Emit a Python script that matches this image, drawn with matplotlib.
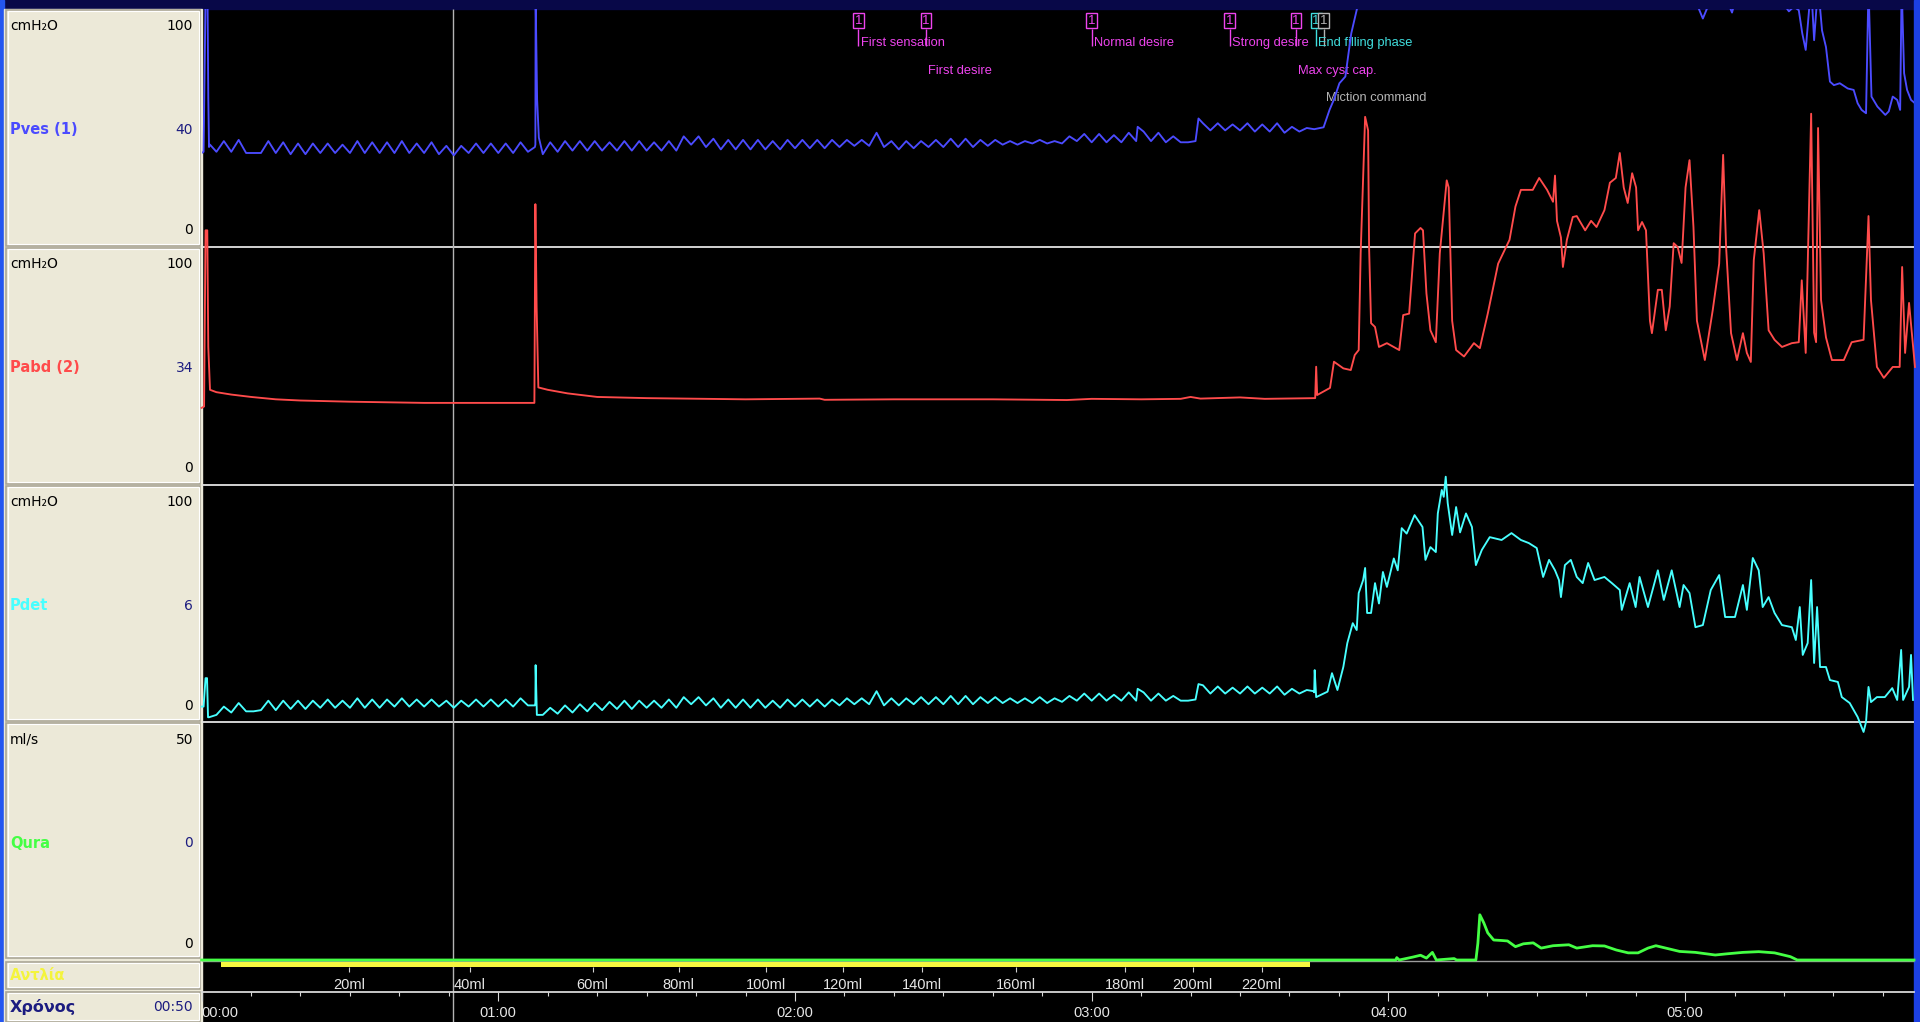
import numpy as np
import matplotlib
matplotlib.use('Agg')
import matplotlib.pyplot as plt
from matplotlib import font_manager
from matplotlib.patches import Rectangle

# ---------------- data (time in s) ----------------
t_end = 346.3
cursor_t = 50.8
breath_dt = 1.5          # step of the filling-phase lists below

# Pves, filling phase, one value every 1.5 s (trough / peak of breathing)
pves_breath = [
    39.5, 42, 40, 44.5, 40, 45, 39.5, 39.5, 39.5, 44.5,
    39.5, 44, 39, 43.5, 39, 43.5, 39.5, 43.5, 39.5, 43,
    39.5, 44.5, 39.5, 44, 39.5, 44, 39.5, 44.5, 39.5, 43.5,
    39.5, 44, 39, 42.5, 38.5, 42.5, 39.5, 43.5, 39.5, 43.5,
    39.5, 43.5, 39.5, 44, 40, 43, 39, 44, 40, 44.5,
    40.5, 44.5, 40.5, 44.5, 40.5, 44, 40.5, 44.5, 40.5, 44.5,
    40.5, 44, 40.5, 44.5, 40.5, 46.5, 43, 46.5, 42, 45.5,
    41, 45, 41, 45, 41, 45, 41, 44.5, 41, 45,
    41.5, 45, 41.5, 45, 41.5, 45, 42, 45, 42.5, 45,
    42.5, 48, 42, 44.5, 41, 44.5, 41.5, 44.5, 42, 45,
    42, 45.5, 42, 45.5, 42, 45, 42.5, 45, 43, 44.5,
    43, 44.5, 43.5, 45, 43.5, 44.5, 43.5, 46.5, 44.5, 47.5,
    44, 47.5, 44, 47, 44, 48, 44.5, 48.5, 44.5, 48,
    44, 46.5, 44, 44, 44.5, 52, 49, 52, 49, 51.5,
    49, 52, 48.5, 51.5, 48.5, 52, 48, 50.5, 48.5, 50,
    49.5,
]
pves_spikes = [(0.4, 40), (0.8, 105), (1.2, 105), (1.35, 63), (1.7, 43),
               (67.4, 42), (67.55, 105), (67.85, 62), (68.2, 46),
               (189.3, 50.5), (201.6, 54)]
pves_void = [
    (226.9, 50.3), (228.1, 57.6), (229.0, 62), (230.1, 68.8), (231.3, 71.6),
    (232.5, 89.8), (233.7, 100.5), (235, 130), (240, 118), (245, 150), (250, 180),
    (260, 150), (270, 190), (280, 135), (290, 150), (300, 130), (302.6, 101),
    (303.6, 96), (304.6, 101), (306, 115), (309.0, 101), (309.5, 98.5),
    (310.2, 104), (315, 110), (319.3, 100.5), (320.0, 102), (321.0, 99),
    (322.0, 101), (323.0, 99.5), (323.7, 89.8), (324.4, 82.8), (325.5, 110),
    (326.1, 86.9), (326.9, 110), (327.7, 91), (328.5, 84), (329.3, 69.5),
    (330.1, 68), (331.3, 68.8), (332.9, 66.6), (334.1, 66), (334.9, 60.4),
    (335.7, 57.6), (336.6, 56.2), (337.1, 110), (337.7, 63.2), (338.9, 59),
    (340.5, 55.5), (341.2, 57), (342.0, 63.2), (342.9, 61.8), (343.5, 57.6),
    (343.8, 110), (344.3, 73), (344.9, 66), (345.7, 61.8), (346.5, 60.4),
]

pabd_pts = [
    (0, 32.4), (0.5, 33), (0.8, 107), (1.15, 107), (1.35, 58), (1.7, 40), (3, 39),
    (6, 38), (10, 37), (15, 36), (20, 35.5), (30, 35), (45, 34.5), (60, 34.5),
    (67.3, 34.5), (67.5, 118), (67.75, 75), (68.1, 41), (70, 40), (74, 38.5),
    (80, 37), (90, 36.5), (110, 36), (125, 36.3), (126, 35.8), (140, 36),
    (160, 36), (175, 35.7), (180, 36.2), (190, 36), (198, 36.2), (200, 37),
    (202, 36.3), (210, 36.8), (215, 36.2), (222, 36.4), (225.2, 36.5),
    (225.4, 49.7), (225.6, 37.8), (228.2, 40.8), (229.0, 51.8), (230.9, 49),
    (232.4, 48.3), (233.2, 54.6), (234.0, 56.7), (234.4, 97.5), (235.3, 154.7),
    (235.9, 149), (236.1, 100), (236.5, 68), (237.3, 66.4), (238.1, 58),
    (239.7, 59.6), (242.2, 56.7), (243.0, 71.4), (244.2, 72), (245.4, 105.7),
    (246.5, 108), (247.0, 107), (247.7, 80.5), (248.5, 65), (249.6, 60),
    (250.4, 97.3), (251.8, 128), (252.2, 125), (252.9, 69), (253.7, 56.7),
    (255.3, 54), (257.3, 59.6), (258.5, 57.5), (260.1, 72), (262.2, 93),
    (264.5, 103), (265.7, 117), (266.8, 124), (269.2, 124), (270.5, 129),
    (272.1, 124), (273.3, 119), (273.7, 130), (274.1, 111), (274.9, 104),
    (275.3, 91.6), (276.1, 103), (277.3, 112.6), (278.1, 113), (279.8, 107),
    (281.0, 111), (282.1, 108.4), (283.7, 115.5), (284.8, 127), (286.0, 129),
    (286.8, 139.5), (287.6, 125), (288.4, 118.5), (289.3, 131), (290.1, 125),
    (290.5, 107), (291.3, 110.5), (292.1, 107), (292.9, 69), (293.3, 63.8),
    (294.5, 82), (295.3, 82), (296.1, 65), (296.9, 75), (297.7, 101.6),
    (298.5, 100), (299.3, 93.3), (300.1, 125), (300.9, 136.5), (301.7, 108.4),
    (302.4, 69), (304.0, 52.5), (305.6, 73.5), (306.9, 93), (307.7, 138.7),
    (308.3, 100), (309.3, 63.8), (310.5, 52.5), (311.7, 63.8), (312.5, 55.5),
    (313.3, 51.7), (313.9, 94.5), (315.0, 115.5), (315.9, 97.3), (316.9, 65),
    (318.1, 61), (319.6, 58), (321.6, 59.6), (323.0, 60), (323.6, 86),
    (324.4, 55.5), (325.5, 156), (326.1, 64), (326.5, 60), (326.9, 150),
    (327.5, 77.7), (328.5, 62), (329.7, 52.5), (332.1, 52.5), (333.7, 60),
    (336.1, 61), (337.1, 113), (337.6, 77.7), (338.8, 49.6), (340.2, 45),
    (342.0, 49.6), (343.4, 49.6), (343.9, 91.6), (344.5, 55.5), (345.3, 76.5),
    (346.5, 49.6),
]

pdet_breath = [
    6.5, 2, 3, 6.5, 4, 8, 4.5, 4.5, 5, 9,
    5, 9, 5.5, 9, 5.5, 9, 6, 9.5, 6, 9,
    6, 10, 6, 9.5, 6, 9.5, 6.5, 10, 6.5, 9.5,
    6.5, 9.5, 6.5, 9, 6, 9, 6.5, 9.5, 6.5, 9.5,
    6.5, 9.5, 6.5, 10, 7, 8, 3, 6, 3.5, 7,
    4, 7.5, 4.5, 8, 5, 8.5, 5.5, 9, 5.5, 9,
    6, 9, 6, 9.5, 6, 10.5, 7.5, 10.5, 7, 10,
    6, 9.5, 6, 9.5, 6, 9.5, 6, 9, 6, 9.5,
    6.5, 9.5, 6.5, 9.5, 6.5, 9.5, 7, 10, 7.5, 10,
    7.5, 13, 7, 10, 7, 10, 7.5, 10.5, 7.5, 10.5,
    7.5, 11, 7.5, 11, 7.5, 10.5, 8, 10.5, 8, 10,
    8, 10, 8, 10.5, 8, 10, 8.5, 11, 9, 12,
    9, 12, 9, 11.5, 9, 12.5, 9, 12.5, 9, 12,
    9, 11, 9, 9, 9.5, 15.5, 12, 15, 12, 14.5,
    12, 15, 12, 14.5, 12, 15, 11.5, 14, 12, 13.5,
    12.5,
]
pdet_spikes = [(0.4, 6.5), (0.8, 18.5), (1.1, 18.5), (1.3, 2),
               (67.4, 7), (67.55, 24), (67.8, 3), (189.3, 14), (201.6, 16)]
pdet_void = [
    (224.9, 13), (225.1, 21.9), (225.4, 10.5), (227.7, 12.8), (228.6, 20.6),
    (229.7, 13.5), (230.9, 23.3), (231.7, 33.3), (232.8, 41.7), (233.6, 38.8),
    (234.0, 54.4), (234.9, 59.9), (235.3, 65), (235.7, 46), (236.5, 46),
    (237.3, 58.6), (238.1, 50), (238.9, 63.3), (239.7, 57), (241.1, 69),
    (241.9, 64), (242.7, 81.8), (243.7, 79.5), (245.3, 87.3), (246.9, 82.3),
    (247.5, 68.4), (248.5, 73.8), (249.6, 71.7), (250.0, 88), (250.8, 97.9),
    (251.2, 95), (251.6, 103.5), (252.0, 92.4), (252.9, 78.9), (253.7, 90.7),
    (254.5, 80), (255.7, 88), (256.9, 82.3), (257.7, 66.2), (258.9, 72.6),
    (260.5, 78), (262.9, 76.8), (264.9, 79.7), (266.8, 76.8), (268.4, 75.5),
    (270.0, 73.4), (271.3, 61.2), (272.5, 68.4), (273.7, 64), (274.5, 59.9),
    (274.9, 52.7), (275.7, 66.2), (276.9, 68.4), (278.1, 61.2), (279.3, 58.6),
    (280.4, 67.1), (281.7, 59.9), (283.7, 61.2), (285.2, 58.6), (286.8, 55.7),
    (287.2, 47.3), (288.8, 58.6), (290.0, 48.5), (290.8, 61.2), (292.5, 48.5),
    (294.5, 64), (295.7, 51.5), (297.3, 64), (298.9, 48.5), (299.7, 57.8),
    (300.9, 54.4), (302.1, 40), (303.6, 40.9), (305.2, 55.7), (306.9, 62),
    (308.1, 44.3), (310.1, 44.3), (311.7, 57.8), (312.5, 47.3), (313.7, 69.2),
    (314.9, 64), (315.7, 48.5), (316.9, 52.7), (318.1, 46), (319.6, 40.9),
    (321.6, 40), (322.4, 34.6), (323.2, 48.5), (323.8, 28.3), (324.8, 33.3),
    (325.5, 59.9), (326.1, 24.9), (326.7, 48.5), (327.3, 23.2), (328.5, 23.2),
    (329.3, 17.7), (330.9, 16.9), (331.7, 10.5), (333.3, 8), (334.9, 2.1),
    (336.1, -4.2), (336.6, 0), (337.1, 14.8), (337.6, 8.4), (338.8, 10.5),
    (340.4, 10.5), (341.9, 14.3), (342.9, 9.3), (343.7, 30.4), (344.1, 9.3),
    (345.3, 14.8), (345.7, 28.3), (346.1, 9.3),
]

qura_pts = [
    (0, 0), (241.5, 0), (241.7, 0.5), (242.2, 0), (244.9, 0.6), (246.5, 1.0),
    (247.7, 0.4), (248.9, 1.6), (249.7, 0), (253.3, 0.3), (253.8, 0), (257.7, 0),
    (258.1, 3.5), (258.5, 9.5), (259.3, 7.8), (260.1, 5.7), (261.3, 4.2),
    (262.9, 4.1), (264.1, 4.0), (265.7, 2.8), (267.3, 3.4), (269.3, 3.6),
    (270.9, 2.5), (273.3, 3.0), (276.5, 3.2), (278.1, 2.5), (281.3, 3.0),
    (283.7, 2.95), (286.1, 2.1), (288.5, 1.5), (290.5, 1.5), (292.5, 2.5),
    (294.1, 3.0), (296.5, 2.4), (298.9, 1.8), (302.1, 1.6), (306.1, 1.05),
    (308.5, 1.3), (311.7, 1.6), (314.9, 1.75), (318.1, 1.5), (321.3, 0.7),
    (322.7, 0), (346.3, 0),
]

pump_start, pump_stop = 4.0, 224.1
vol_ml = [20, 40, 60, 80, 100, 120, 140, 160, 180, 200, 220]
vol_t = [29.8, 54.3, 79.1, 96.5, 114.1, 129.7, 145.7, 164.6, 186.8, 200.4, 214.4]

event_t = [132.8, 146.5, 180.0, 207.9, 221.3, 225.4, 226.9]
event_names = ['First sensation', 'First desire', 'Normal desire', 'Strong desire',
               'Max cyst cap.', 'End filling phase', 'Miction command']
event_row = [0, 1, 0, 0, 1, 0, 2]
event_kind = ['m', 'm', 'm', 'm', 'm', 'c', 'g']

chan_units = ['cmH\u2082O', 'cmH\u2082O', 'cmH\u2082O', 'ml/s']
chan_top = ['100', '100', '100', '50']
chan_names = ['Pves (1)', 'Pabd (2)', 'Pdet', 'Qura']
chan_cursor = ['40', '34', '6', '0']


def merged(breath, extra, void):
    t = np.concatenate([np.arange(len(breath)) * breath_dt,
                        [p[0] for p in extra], [p[0] for p in void]])
    v = np.concatenate([breath, [p[1] for p in extra], [p[1] for p in void]])
    o = np.argsort(t, kind='stable')
    return t[o], v[o]


pves_t, pves_v = merged(pves_breath, pves_spikes, pves_void)
pdet_t, pdet_v = merged(pdet_breath, pdet_spikes, pdet_void)
pabd_t, pabd_v = np.array(pabd_pts).T
qura_t, qura_v = np.array(qura_pts).T

# ---------------- layout (pixels of the 1920x1022 screen) ----------------
W, H, DPI = 1920, 1022, 100
X0, X1 = 201.6, 1914
panels = [(9, 247), (247, 485), (485, 722), (722, 960)]
ymax = [100, 100, 100, 50]

names = {f.name for f in font_manager.fontManager.ttflist}
narrow = 'Liberation Sans Narrow' if 'Liberation Sans Narrow' in names else 'Liberation Sans'
NARROW = [narrow, 'DejaVu Sans']
UI = ['DejaVu Sans']

col_pves = '#4b4bff'
col_pabd = '#ff4b4b'
col_pdet = '#48ffff'
col_qura = '#44ff44'
col_navy = '#1c1c80'
col_mag = '#ee44ee'
ev_colors = {'m': col_mag, 'c': '#40dede', 'g': '#b4b4b4'}

fig = plt.figure(figsize=(W / DPI, H / DPI), dpi=DPI, facecolor='black')


def px_rect(x0, y0, x1, y1):
    return [x0 / W, 1 - y1 / H, (x1 - x0) / W, (y1 - y0) / H]


bg = fig.add_axes([0, 0, 1, 1], zorder=0)
bg.set_xlim(0, W)
bg.set_ylim(H, 0)
bg.axis('off')

bg.add_patch(Rectangle((0, 0), W, 9, color='#080848'))
bg.add_patch(Rectangle((0, 0), 4, H, color='#2456f0'))
bg.add_patch(Rectangle((X1, 0), W - X1, H, color='#1c40e4'))
bg.add_patch(Rectangle((4, 9), X0 - 4, H - 9, color='#ECE9D8'))
boxes = [(10, 246), (248, 484), (486, 721), (723, 958), (962, 989), (992, 1022)]
for y0, y1 in boxes:
    bg.add_patch(Rectangle((6, y0), 194, y1 - y0, fc='#ECE9D8', ec='#aaa696', lw=1.2))
    bg.add_patch(Rectangle((7.5, y0 + 1.5), 191, y1 - y0 - 3, fc='none', ec='white', lw=0.8))

# panel separators in the trace area
bg.hlines([247, 485, 722], X0, X1, color='#e4e4e4', lw=1.3)
bg.hlines(961, X0, X1, color='#9c9c9c', lw=1)

# channel captions on the left
name_cols = [col_pves, col_pabd, col_pdet, col_qura]
for i, (y0, y1) in enumerate(panels):
    bg.text(10, y0 + 17.5, chan_units[i], color='black', fontsize=10, family=UI,
            ha='left', va='center')
    bg.text(193, y0 + 17.5, chan_top[i], color='black', fontsize=10, family=UI,
            ha='right', va='center')
    mid = (y0 + y1) / 2 + 2
    bg.text(10, mid, chan_names[i], color=name_cols[i], fontsize=10.5, family=UI,
            fontweight='bold', ha='left', va='center')
    bg.text(193, mid, chan_cursor[i], color=col_navy, fontsize=10, family=UI,
            ha='right', va='center')
    bg.text(193, y1 - 16.5, '0', color='black', fontsize=10, family=UI,
            ha='right', va='center')
bg.text(10, 976, '\u0391\u03bd\u03c4\u03bb\u03af\u03b1', color='#f4f43c', fontsize=10.5,
        family=UI, fontweight='bold', ha='left', va='center')
bg.text(10, 1007, '\u03a7\u03c1\u03cc\u03bd\u03bf\u03c2', color=col_navy, fontsize=11.5,
        family=UI, fontweight='bold', ha='left', va='center')
bg.text(193, 1007, '00:50', color=col_navy, fontsize=10, family=UI,
        ha='right', va='center')

# cursor and event markers (x in seconds, y in screen pixels)
ax_all = fig.add_axes(px_rect(X0, 0, X1, H), zorder=1)
ax_all.set_xlim(0, t_end)
ax_all.set_ylim(H, 0)
ax_all.axis('off')
ax_all.patch.set_alpha(0)
ax_all.vlines(cursor_t, 9, H, color='#b4b4b4', lw=1)
row_y = [43, 71, 98]
for t, name, row, kind in zip(event_t, event_names, event_row, event_kind):
    c = ev_colors[kind]
    ax_all.vlines(t, 29, 46, color=c, lw=1)
    ax_all.text(t, 20.5, '1', color=c, fontsize=9.5, family=NARROW, ha='center',
                va='center', bbox=dict(boxstyle='square,pad=0.12', fc='black', ec=c, lw=1))
    ax_all.text(t + 0.45, row_y[row], name, color=c, fontsize=9.3, family=NARROW,
                ha='left', va='center')

# pump bar
ax_pump = fig.add_axes(px_rect(X0, 961.5, X1, 966.5), zorder=2)
ax_pump.set_xlim(0, t_end)
ax_pump.set_ylim(0, 1)
ax_pump.axis('off')
ax_pump.axvspan(pump_start, pump_stop, color='#f6f640', lw=0)

# traces
traces = [(pves_t, pves_v, col_pves, True), (pabd_t, pabd_v, col_pabd, False),
          (pdet_t, pdet_v, col_pdet, False), (qura_t, qura_v, col_qura, False)]
for i, ((y0, y1), (t, v, c, clip)) in enumerate(zip(panels, traces)):
    ax = fig.add_axes(px_rect(X0, y0, X1, y1), zorder=3 + (i == 1))
    ax.set_xlim(0, t_end)
    ax.set_ylim(0, ymax[i])
    ax.axis('off')
    ax.patch.set_alpha(0)
    ax.plot(t, v, color=c, lw=2.0 if i == 3 else 1.35, clip_on=clip)

# infused volume ticks
ax_vol = fig.add_axes(px_rect(X0, 966.8, X1, 967), zorder=2)
ax_vol.set_xlim(0, t_end)
ax_vol.patch.set_alpha(0)
for s in ax_vol.spines.values():
    s.set_visible(False)
ax_vol.set_yticks([])
ax_vol.set_xticks(vol_t)
ax_vol.set_xticklabels([f'{m}ml' for m in vol_ml])
ax_vol.tick_params(axis='x', direction='out', length=3.6, width=0.8, color='#d0d0d0',
                   pad=4.0, labelsize=10.5, labelcolor='#e6e6e6')
for lab in ax_vol.get_xticklabels():
    lab.set_family(NARROW)

# time axis
ax_time = fig.add_axes(px_rect(X0, 991.8, X1, 992), zorder=2)
ax_time.set_xlim(0, t_end)
ax_time.patch.set_alpha(0)
for k in ['left', 'right', 'top']:
    ax_time.spines[k].set_visible(False)
ax_time.spines['bottom'].set_color('#d8d8d8')
ax_time.spines['bottom'].set_linewidth(1.3)
ax_time.set_yticks([])
major = np.arange(0, t_end, 60)
ax_time.set_xticks(major)
ax_time.set_xticklabels([f'{int(m // 60):02d}:00' for m in major])
ax_time.set_xticks(np.arange(0, t_end, 10), minor=True)
ax_time.tick_params(axis='x', which='major', direction='out', length=6.5, width=0.8,
                    color='#d8d8d8', pad=3.5, labelsize=10.5, labelcolor='#e6e6e6')
ax_time.tick_params(axis='x', which='minor', direction='out', length=3, width=0.8,
                    color='#d8d8d8')
for lab in ax_time.get_xticklabels():
    lab.set_family(NARROW)
ax_time.get_xticklabels()[0].set_ha('left')

fig.savefig('out.png', dpi=DPI, facecolor='black')
